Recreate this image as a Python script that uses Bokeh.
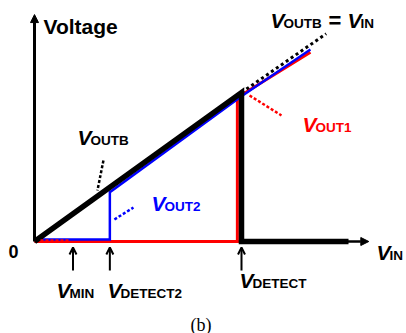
from bokeh.plotting import figure
from bokeh.models import Range1d, Arrow, NormalHead, OpenHead
from bokeh.core.properties import value
from bokeh.embed import file_html
from bokeh.resources import INLINE

# ---- transfer characteristics, input voltage normalised so V_DETECT = 1 ----
V_MIN = 0.186
V_DETECT2 = 0.364
V_DETECT = 1.0

# V_OUTB follows V_IN up to V_DETECT, then drops to 0
voutb_x = [0.0, 1.0, 1.0, 1.517]
voutb_y = [0.0, 1.0, 0.0, 0.0]

# V_OUT1 stays low until V_DETECT, then tracks the input
vout1_x = [0.0, 0.98, 0.98, 1.333]
vout1_y = [0.0, 0.0, 0.966, 1.27]

# V_OUT2 stays low until V_DETECT2, then tracks the input
vout2_x = [0.01, 0.364, 0.364, 1.0, 1.333]
vout2_y = [0.013, 0.013, 0.331, 0.975, 1.289]

# ideal V_OUTB = V_IN continuation
ideal_x = [1.0, 1.409]
ideal_y = [1.0, 1.394]

# axis extents
axis_x_end = 1.615
axis_y_end = 1.523

# dotted leader lines from labels to curves: (x0, y0, x1, y1, colour)
leaders = [
    (0.333, 0.544, 0.304, 0.342, "black"),
    (0.386, 0.148, 0.478, 0.228, "#0000FF"),
    (1.039, 0.980, 1.193, 0.846, "#FF0000"),
    (0.029, 0.007, 0.174, 0.007, "#FF0000"),
]

# ---- canvas mapping ----
W, H = 406, 333
X0, Y0 = 34, 241      # canvas position of the origin
SX, SY = 207, 149     # canvas pixels per unit

RED = "#FF0000"
BLUE = "#0000FF"

p = figure(width=W, height=H,
           x_range=Range1d(-X0 / SX, (W - X0) / SX),
           y_range=Range1d(-(H - Y0) / SY, Y0 / SY),
           x_axis_type=None, y_axis_type=None,
           output_backend="svg", toolbar_location=None,
           min_border=0, outline_line_color=None,
           background_fill_color="white", border_fill_color="white")
p.grid.visible = False

# axes with arrow heads, drawn beneath the curves
p.add_layout(Arrow(end=NormalHead(size=8, fill_color="black", line_color="black"),
                   x_start=0, y_start=0, x_end=0, y_end=axis_y_end,
                   line_width=3, line_color="black", level="underlay"))
p.add_layout(Arrow(end=NormalHead(size=8, fill_color="black", line_color="black"),
                   x_start=0, y_start=0, x_end=axis_x_end, y_end=0,
                   line_width=2.5, line_color="black", level="underlay"))

# curves
p.line(vout1_x, vout1_y, line_color=RED, line_width=3, line_join="miter")
p.line(vout2_x, vout2_y, line_color=BLUE, line_width=2.5, line_join="miter")
p.line(voutb_x, voutb_y, line_color="black", line_width=5.5, line_join="miter")
p.line(ideal_x, ideal_y, line_color="black", line_width=3, line_dash="3 3")

for x0, y0, x1, y1, c in leaders:
    p.line([x0, x1], [y0, y1], line_color=c, line_width=2.5, line_dash="3 2")

# threshold markers under the input axis
ARROW_LOW, ARROW_HIGH = -0.195, -0.040
for xv in (V_MIN, V_DETECT2, V_DETECT):
    p.add_layout(Arrow(end=OpenHead(size=7, line_width=2, line_color="black"),
                       x_start=xv, y_start=ARROW_LOW, x_end=xv, y_end=ARROW_HIGH,
                       line_width=2, line_color="black"))

# ---- text ----
FONT = value("Liberation Sans")


def txt(px, py, s, size, color="black", style="bold", align="left", font=FONT):
    p.text(x=[(px - X0) / SX], y=[(Y0 - py) / SY], text=[s],
           text_font=font, text_font_size=f"{size}px", text_font_style=style,
           text_color=color, text_align=align, text_baseline="alphabetic")


def vlabel(px, py, sub, color="black"):
    txt(px, py, "V", 21, color, "bold italic")
    txt(px + 13, py + 3, sub, 13.5, color)


txt(43, 26, "Voltage", 21)
txt(8, 251, "0", 18)

vlabel(270, 20, "OUTB")
txt(328, 20, "=", 22)
vlabel(347, 20, "IN")

vlabel(77, 137, "OUTB")
vlabel(302, 123.5, "OUT1", RED)
vlabel(151, 203, "OUT2", BLUE)
vlabel(376, 251.5, "IN")

vlabel(56, 290, "MIN")
vlabel(107, 290, "DETECT2")
vlabel(239, 280, "DETECT")

txt(200.5, 324, "(b)", 18, style="normal", align="center",
    font=value("Liberation Serif"))

open("out.html", "w").write(file_html(p, INLINE))
